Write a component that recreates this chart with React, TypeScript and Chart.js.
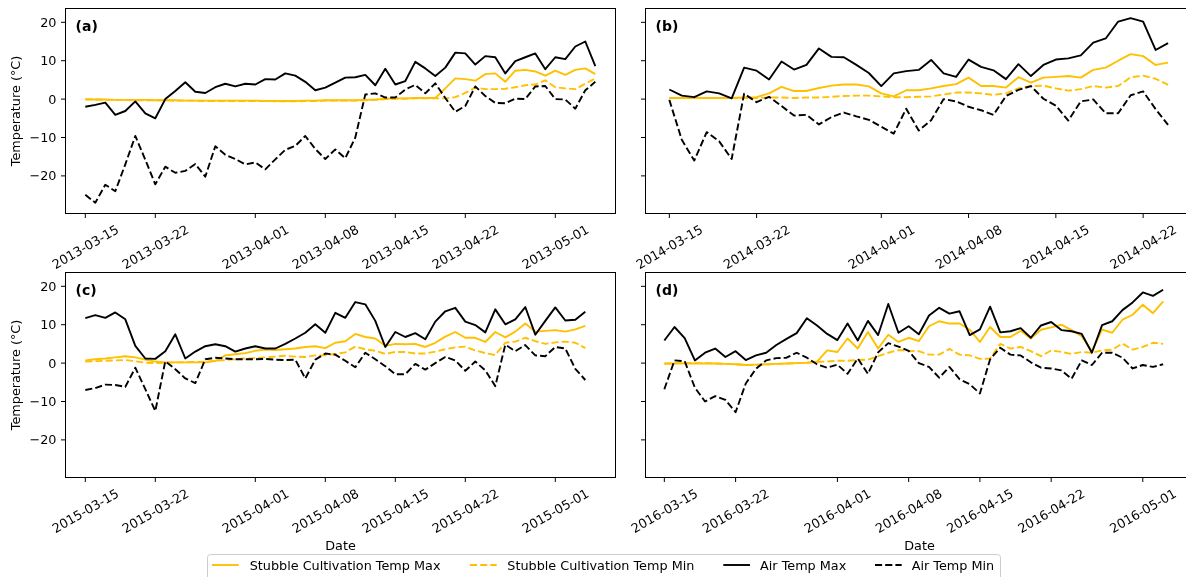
import React, { useEffect, useRef } from 'react';
import { Chart, registerables } from 'chart.js';

Chart.register(...registerables);

// ---------- labels ----------
const seriesLabels = [
  'Stubble Cultivation Temp Max',
  'Stubble Cultivation Temp Min',
  'Air Temp Max',
  'Air Temp Min',
];
const yTickValues = [-20, -10, 0, 10, 20];
const yMin = -29.8;
const yMax = 23.6;

// ---------- 2013 (a) ----------
const start2013 = '2013-03-15';
const ticks2013 = ['2013-03-15', '2013-03-22', '2013-04-01', '2013-04-08', '2013-04-15', '2013-04-22', '2013-05-01'];
const stubbleMax2013 = [0.0, -0.1, -0.1, -0.2, -0.2, -0.2, -0.2, -0.3, -0.3, -0.3, -0.4, -0.4, -0.4, -0.4, -0.4, -0.4, -0.4, -0.4, -0.5, -0.5, -0.5, -0.5, -0.4, -0.4, -0.3, -0.3, -0.3, -0.3, -0.2, -0.1, 0.1, 0.2, 0.2, 0.3, 0.3, 0.3, 2.8, 5.4, 5.2, 4.8, 6.5, 6.7, 4.5, 7.4, 7.6, 7.2, 6.1, 7.4, 6.3, 7.6, 8.0, 6.5];
const stubbleMin2013 = [-0.1, -0.1, -0.2, -0.2, -0.2, -0.3, -0.3, -0.3, -0.3, -0.4, -0.4, -0.4, -0.5, -0.5, -0.5, -0.5, -0.5, -0.5, -0.5, -0.6, -0.6, -0.6, -0.5, -0.5, -0.4, -0.4, -0.4, -0.4, -0.3, -0.2, 0.0, 0.1, 0.1, 0.2, 0.2, 0.2, 0.2, 0.5, 1.6, 3.0, 2.6, 2.6, 2.7, 3.1, 3.6, 3.8, 4.9, 3.1, 2.8, 2.6, 4.0, 5.4];
const airMax2013 = [-2.0, -1.5, -0.9, -4.1, -3.1, -0.6, -3.7, -5.0, 0.0, 2.1, 4.4, 1.9, 1.6, 3.1, 4.0, 3.3, 4.0, 3.8, 5.2, 5.1, 6.7, 6.1, 4.5, 2.3, 3.0, 4.3, 5.6, 5.7, 6.3, 3.6, 7.9, 3.8, 4.7, 9.7, 8.0, 6.0, 8.2, 12.1, 11.9, 9.0, 11.2, 10.9, 6.7, 9.9, 10.9, 11.9, 7.8, 10.9, 10.4, 13.7, 15.0, 8.6];
const airMin2013 = [-24.9, -27.0, -22.3, -24.0, -17.0, -9.6, -15.8, -22.2, -17.6, -19.2, -18.7, -16.9, -20.2, -12.3, -14.5, -15.6, -17.0, -16.5, -18.3, -15.7, -13.2, -12.2, -9.6, -13.0, -15.6, -13.1, -15.4, -10.0, 1.2, 1.5, 0.4, 0.4, 2.5, 3.7, 1.5, 4.1, 0.3, -3.3, -1.8, 3.3, 0.8, -1.0, -1.1, 0.1, 0.0, 3.3, 3.4, 0.0, -0.1, -2.5, 2.3, 4.5];

// ---------- 2014 (b) ----------
const start2014 = '2014-03-15';
const ticks2014 = ['2014-03-15', '2014-03-22', '2014-04-01', '2014-04-08', '2014-04-15', '2014-04-22'];
const stubbleMax2014 = [0.3, 0.3, 0.3, 0.3, 0.3, 0.3, 0.4, 0.5, 1.5, 3.2, 2.1, 2.1, 2.9, 3.5, 3.8, 3.8, 3.3, 1.5, 0.7, 2.3, 2.3, 2.8, 3.4, 3.9, 5.6, 3.4, 3.4, 3.0, 5.7, 4.3, 5.6, 5.8, 6.0, 5.6, 7.6, 8.2, 10.0, 11.7, 11.2, 8.9, 9.5];
const stubbleMin2014 = [0.3, 0.3, 0.3, 0.3, 0.3, 0.3, 0.3, 0.3, 0.4, 0.4, 0.3, 0.4, 0.4, 0.6, 0.8, 0.9, 0.9, 0.7, 0.5, 0.5, 0.6, 0.7, 1.2, 1.7, 1.7, 1.5, 1.1, 1.5, 2.8, 3.4, 3.5, 2.8, 2.2, 2.6, 3.4, 3.0, 3.4, 5.7, 6.1, 5.3, 3.7];
const airMax2014 = [2.5, 0.9, 0.5, 2.0, 1.5, 0.2, 8.2, 7.4, 5.1, 9.8, 7.7, 8.9, 13.2, 11.0, 10.9, 8.9, 6.8, 3.4, 6.7, 7.3, 7.6, 10.2, 6.7, 5.8, 10.3, 8.4, 7.5, 5.2, 9.1, 6.0, 8.9, 10.3, 10.6, 11.4, 14.7, 15.8, 20.2, 21.1, 20.2, 12.8, 14.6];
const airMin2014 = [-0.2, -10.6, -16.0, -8.6, -11.0, -15.6, 1.4, -0.8, 0.6, -1.8, -4.3, -4.1, -6.6, -4.7, -3.5, -4.5, -5.4, -7.2, -9.0, -2.5, -8.2, -5.5, 0.0, -0.6, -2.0, -2.9, -4.1, 0.8, 2.4, 3.4, 0.1, -1.7, -5.6, -0.6, -0.1, -3.7, -3.7, 1.0, 2.0, -2.6, -6.7];

// ---------- 2015 (c) ----------
const start2015 = '2015-03-15';
const ticks2015 = ['2015-03-15', '2015-03-22', '2015-04-01', '2015-04-08', '2015-04-15', '2015-04-22', '2015-05-01'];
const stubbleMax2015 = [0.7, 1.0, 1.2, 1.5, 1.8, 1.5, 0.9, 0.4, 0.2, 0.2, 0.2, 0.2, 0.2, 0.5, 2.0, 2.3, 2.6, 3.2, 3.5, 3.4, 3.6, 3.8, 4.2, 4.4, 3.9, 5.3, 5.7, 7.6, 6.8, 6.4, 4.5, 5.0, 4.9, 5.0, 4.2, 5.3, 6.9, 8.1, 6.6, 6.6, 5.5, 8.1, 6.7, 8.2, 10.3, 8.2, 8.4, 8.6, 8.2, 8.8, 9.7];
const stubbleMin2015 = [0.4, 0.5, 0.6, 0.7, 0.8, 0.5, 0.1, 0.0, 0.1, 0.2, 0.2, 0.3, 0.4, 0.6, 0.8, 1.0, 1.2, 1.3, 1.5, 1.7, 1.9, 1.7, 1.6, 2.0, 2.0, 2.4, 2.8, 4.3, 3.6, 3.2, 2.4, 2.9, 2.9, 2.5, 2.5, 3.0, 3.6, 4.1, 4.3, 3.3, 2.6, 2.1, 5.3, 5.6, 6.6, 5.7, 5.0, 5.4, 5.6, 5.3, 3.9];
const airMax2015 = [11.7, 12.5, 11.8, 13.2, 11.4, 4.5, 1.2, 1.1, 3.1, 7.5, 1.2, 3.0, 4.4, 4.9, 4.4, 3.0, 3.8, 4.4, 3.8, 3.8, 5.0, 6.4, 7.9, 10.1, 7.9, 13.1, 11.8, 15.9, 15.3, 11.0, 4.2, 8.1, 6.8, 7.8, 6.2, 10.8, 13.5, 14.4, 10.8, 9.9, 8.0, 14.0, 10.1, 11.4, 14.6, 7.4, 11.0, 14.5, 11.1, 11.3, 13.4];
const airMin2015 = [-7.0, -6.5, -5.6, -5.7, -6.2, -1.2, -6.8, -12.5, 0.5, -1.6, -4.0, -5.2, 1.0, 1.4, 1.2, 1.0, 1.0, 1.0, 1.1, 0.9, 0.8, 0.9, -4.0, 0.9, 2.5, 2.2, 0.6, -1.1, 2.7, 1.0, -0.8, -2.9, -2.9, -0.2, -1.7, 0.0, 1.6, 0.7, -2.0, 0.4, -1.9, -6.0, 4.8, 3.1, 4.7, 2.0, 1.8, 4.2, 3.8, -1.5, -4.4];

// ---------- 2016 (d) ----------
const start2016 = '2016-03-15';
const ticks2016 = ['2016-03-15', '2016-03-22', '2016-04-01', '2016-04-08', '2016-04-15', '2016-04-22', '2016-05-01'];
const stubbleMax2016 = [-0.2, -0.1, -0.1, -0.1, -0.1, -0.1, -0.2, -0.3, -0.5, -0.4, -0.3, -0.2, -0.1, 0.0, 0.1, 0.4, 3.3, 2.9, 6.4, 3.8, 8.1, 3.8, 7.4, 5.5, 6.6, 5.7, 9.6, 10.9, 10.3, 10.3, 8.7, 5.5, 9.4, 6.8, 6.8, 8.4, 6.4, 8.7, 9.3, 10.0, 8.6, 7.0, 3.1, 8.7, 7.9, 11.3, 12.6, 15.2, 13.0, 16.1];
const stubbleMin2016 = [-0.1, 0.0, 0.0, 0.0, 0.0, -0.1, -0.2, -0.3, -0.5, -0.5, -0.4, -0.2, -0.1, 0.0, 0.1, 0.3, 0.4, 0.6, 0.6, 0.8, 0.9, 1.8, 2.7, 3.4, 3.2, 3.1, 2.2, 2.2, 3.7, 2.2, 2.0, 1.1, 1.2, 5.0, 3.8, 4.2, 3.1, 1.8, 3.3, 2.9, 2.4, 2.9, 2.7, 3.3, 3.5, 5.1, 3.5, 4.2, 5.3, 5.0];
const airMax2016 = [5.9, 9.4, 6.5, 0.7, 2.7, 3.8, 1.6, 3.1, 0.8, 2.0, 2.7, 4.7, 6.3, 7.8, 11.7, 9.8, 7.6, 6.0, 10.3, 5.9, 11.0, 7.3, 15.4, 7.9, 9.6, 7.5, 12.4, 14.4, 12.9, 13.5, 7.3, 8.8, 14.7, 8.0, 8.3, 9.1, 6.6, 9.8, 10.7, 8.6, 8.3, 7.6, 2.7, 9.9, 10.9, 13.8, 15.8, 18.4, 17.5, 19.1];
const airMin2016 = [-6.8, 0.7, 0.5, -6.4, -10.0, -8.6, -9.6, -12.8, -5.3, -1.5, 0.7, 1.3, 1.4, 2.7, 1.4, -0.3, -1.2, -0.4, -2.8, 1.2, -2.8, 2.8, 5.2, 4.3, 3.2, 0.0, -1.0, -3.8, -1.0, -4.2, -5.5, -7.9, 1.0, 4.0, 2.2, 2.0, 0.2, -1.2, -1.4, -1.9, -4.1, 0.7, -0.5, 2.7, 2.7, 1.4, -1.4, -0.5, -1.0, -0.3];

// ---------- styling ----------
const YELLOW = '#FFC000';
const BLACK = '#000000';
const LINE_W = 1.9;
const DASH = [7.1, 3.1];
const FONT_FAMILY = '"DejaVu Sans", "Liberation Sans", sans-serif';
const FONT = `12.8px ${FONT_FAMILY}`;

const seriesStyles = [
  { color: YELLOW, dash: [] as number[], order: 3 },
  { color: YELLOW, dash: DASH, order: 2 },
  { color: BLACK, dash: [] as number[], order: 1 },
  { color: BLACK, dash: DASH, order: 0 },
];

const DAY = 86400000;
const dayOffset = (start: string, d: string) => Math.round((Date.parse(d) - Date.parse(start)) / DAY);

type PanelCfg = {
  tag: string;
  start: string;
  ticks: string[];
  series: number[][];
  xMin: number;
  xMax: number;
  left: number;
  top: number;
  width: number;
  height: number;
  padding: { left: number; top: number; right: number; bottom: number };
  yLabels: boolean;
  xTitle: boolean;
};

const panels: PanelCfg[] = [
  {
    tag: '(a)', start: start2013, ticks: ticks2013,
    series: [stubbleMax2013, stubbleMin2013, airMax2013, airMin2013],
    xMin: -1.98, xMax: 53.02,
    left: 0, top: 0, width: 630, height: 270,
    padding: { left: 65.5, top: 8.5, right: 14.5, bottom: 56.5 },
    yLabels: true, xTitle: false,
  },
  {
    tag: '(b)', start: start2014, ticks: ticks2014,
    series: [stubbleMax2014, stubbleMin2014, airMax2014, airMin2014],
    xMin: -1.91, xMax: 42.04,
    left: 630, top: 0, width: 570, height: 270,
    padding: { left: 15.5, top: 8.5, right: 6.5, bottom: 56.5 },
    yLabels: false, xTitle: false,
  },
  {
    tag: '(c)', start: start2015, ticks: ticks2015,
    series: [stubbleMax2015, stubbleMin2015, airMax2015, airMin2015],
    xMin: -1.98, xMax: 53.02,
    left: 0, top: 270, width: 630, height: 307,
    padding: { left: 65.5, top: 2.5, right: 14.5, bottom: 99.5 },
    yLabels: true, xTitle: true,
  },
  {
    tag: '(d)', start: start2016, ticks: ticks2016,
    series: [stubbleMax2016, stubbleMin2016, airMax2016, airMin2016],
    xMin: -1.85, xMax: 51.98,
    left: 630, top: 270, width: 570, height: 307,
    padding: { left: 15.5, top: 2.5, right: 6.5, bottom: 99.5 },
    yLabels: false, xTitle: true,
  },
];

const fmtY = (v: number) => (v < 0 ? '\u2212' + Math.abs(v) : String(v));

function makeAxesPlugin(p: PanelCfg) {
  return {
    id: 'mplAxes',
    afterDraw(chart: any) {
      const ctx: CanvasRenderingContext2D = chart.ctx;
      const a = chart.chartArea;
      const xs = chart.scales.x;
      const ys = chart.scales.y;
      ctx.save();
      ctx.strokeStyle = '#000';
      ctx.fillStyle = '#000';
      ctx.lineWidth = 1;
      // spines
      ctx.strokeRect(a.left, a.top, a.right - a.left, a.bottom - a.top);
      // tick marks
      ctx.beginPath();
      yTickValues.forEach((v) => {
        const py = ys.getPixelForValue(v);
        ctx.moveTo(a.left - 4.5, py);
        ctx.lineTo(a.left, py);
      });
      p.ticks.forEach((t) => {
        const px = xs.getPixelForValue(dayOffset(p.start, t));
        ctx.moveTo(px, a.bottom);
        ctx.lineTo(px, a.bottom + 4.5);
      });
      ctx.stroke();
      ctx.font = FONT;
      ctx.textBaseline = 'alphabetic';
      // y tick labels
      if (p.yLabels) {
        ctx.textAlign = 'right';
        yTickValues.forEach((v) => {
          ctx.fillText(fmtY(v), a.left - 9, ys.getPixelForValue(v) + 4.6);
        });
        // y title
        ctx.save();
        ctx.translate(a.left - 45.5, (a.top + a.bottom) / 2);
        ctx.rotate(-Math.PI / 2);
        ctx.textAlign = 'center';
        ctx.fillText('Temperature (\u00B0C)', 0, 0);
        ctx.restore();
      }
      // x tick labels, rotated 30 degrees, centred under the tick
      ctx.textAlign = 'center';
      p.ticks.forEach((t) => {
        const px = xs.getPixelForValue(dayOffset(p.start, t));
        ctx.save();
        ctx.translate(px, a.bottom + 33.3);
        ctx.rotate(-Math.PI / 6);
        ctx.fillText(t, 0, 4.6);
        ctx.restore();
      });
      if (p.xTitle) {
        ctx.textAlign = 'center';
        ctx.fillText('Date', (a.left + a.right) / 2, a.bottom + 72);
      }
      // panel tag
      ctx.font = `bold 14px ${FONT_FAMILY}`;
      ctx.textAlign = 'left';
      ctx.fillText(p.tag, a.left + 10.1, a.top + 22.4);
      ctx.restore();
    },
  };
}

function Panel({ p }: { p: PanelCfg }) {
  const ref = useRef<HTMLCanvasElement | null>(null);
  useEffect(() => {
    if (!ref.current) return;
    const datasets = p.series.map((vals, si) => ({
      label: seriesLabels[si],
      data: vals.map((v, i) => ({ x: i, y: v })),
      borderColor: seriesStyles[si].color,
      backgroundColor: seriesStyles[si].color,
      borderWidth: LINE_W,
      borderDash: seriesStyles[si].dash,
      borderJoinStyle: 'round' as const,
      pointRadius: 0,
      tension: 0,
      fill: false,
      order: seriesStyles[si].order,
    }));
    const chart = new Chart(ref.current, {
      type: 'line',
      data: { datasets },
      options: {
        responsive: false,
        animation: false,
        devicePixelRatio: 1,
        events: [],
        layout: { padding: p.padding },
        plugins: { legend: { display: false }, tooltip: { enabled: false }, title: { display: false } },
        scales: {
          x: { type: 'linear', min: p.xMin, max: p.xMax, display: false },
          y: { type: 'linear', min: yMin, max: yMax, display: false },
        },
      },
      plugins: [makeAxesPlugin(p)],
    } as any);
    return () => chart.destroy();
  }, [p]);
  return (
    <canvas
      ref={ref}
      width={p.width}
      height={p.height}
      style={{ position: 'absolute', left: p.left, top: p.top, width: p.width, height: p.height }}
    />
  );
}

const legendItems = [
  { handle: [212, 238.7], textX: 249.7 },
  { handle: [470, 496.7], textX: 507.3 },
  { handle: [723.3, 750], textX: 760 },
  { handle: [875, 901.7], textX: 911.7 },
];

function Legend() {
  return (
    <svg
      width={1186}
      height={577}
      style={{ position: 'absolute', left: 0, top: 0, pointerEvents: 'none' }}
    >
      <rect x={207.5} y={554.5} width={793} height={32} rx={3} ry={3} fill="#ffffff" fillOpacity={0.8} stroke="#cccccc" strokeWidth={1} />
      {legendItems.map((it, i) => (
        <g key={i}>
          <line
            x1={it.handle[0]}
            x2={it.handle[1]}
            y1={565}
            y2={565}
            stroke={seriesStyles[i].color}
            strokeWidth={LINE_W}
            strokeDasharray={seriesStyles[i].dash.length ? seriesStyles[i].dash.join(' ') : undefined}
          />
          <text x={it.textX} y={569.6} fontFamily="DejaVu Sans, Liberation Sans, sans-serif" fontSize={12.8} fill="#000">
            {seriesLabels[i]}
          </text>
        </g>
      ))}
    </svg>
  );
}

export default function App() {
  return (
    <div
      style={{
        position: 'fixed',
        left: 0,
        top: 0,
        width: 1186,
        height: 577,
        overflow: 'hidden',
        background: '#ffffff',
      }}
    >
      {panels.map((p) => (
        <Panel key={p.tag} p={p} />
      ))}
      <Legend />
    </div>
  );
}
